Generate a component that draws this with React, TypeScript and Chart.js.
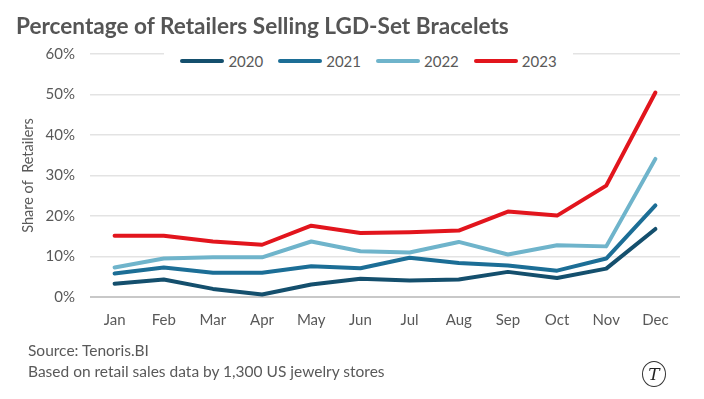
import React, { useEffect, useRef } from "react";
import { Chart, registerables } from "chart.js";

Chart.register(...registerables);

const months = ["Jan", "Feb", "Mar", "Apr", "May", "Jun", "Jul", "Aug", "Sep", "Oct", "Nov", "Dec"];
const years = ["2020", "2021", "2022", "2023"];
const s2020 = [3.3, 4.3, 2.0, 0.6, 3.1, 4.5, 4.1, 4.3, 6.2, 4.7, 7.0, 16.8];
const s2021 = [5.8, 7.3, 6.0, 6.0, 7.6, 7.1, 9.7, 8.4, 7.8, 6.5, 9.5, 22.6];
const s2022 = [7.3, 9.5, 9.8, 9.8, 13.7, 11.3, 11.0, 13.6, 10.5, 12.8, 12.5, 34.1];
const s2023 = [15.1, 15.1, 13.7, 12.9, 17.6, 15.8, 16.0, 16.4, 21.1, 20.1, 27.5, 50.5];
const yTickLabels = ["0%", "10%", "20%", "30%", "40%", "50%", "60%"];
const colors = ["#144f6d", "#1c6e96", "#6fb4cb", "#e2151d"];

const FONT = "Lato, 'Open Sans', sans-serif";
const TEXT = "#595959";

export default function App() {
  const ref = useRef<HTMLCanvasElement | null>(null);

  useEffect(() => {
    document.body.style.margin = "0";
    const series = [s2020, s2021, s2022, s2023];
    const chart = new Chart(ref.current as HTMLCanvasElement, {
      type: "line",
      data: {
        labels: months,
        datasets: series.map((d, i) => ({
          label: years[i],
          data: d,
          borderColor: colors[i],
          backgroundColor: colors[i],
          borderWidth: 4,
          pointRadius: 0,
          tension: 0,
          borderJoinStyle: "round" as const,
          borderCapStyle: "round" as const,
        })),
      },
      options: {
        responsive: false,
        animation: false,
        layout: { padding: { left: 0, right: 24, top: 54, bottom: 62 } },
        plugins: { legend: { display: false }, tooltip: { enabled: false }, title: { display: false } },
        scales: {
          x: {
            offset: true,
            grid: { display: false, drawTicks: false },
            border: { display: false },
            ticks: { padding: 14, color: TEXT, font: { family: FONT, size: 15 } },
            afterFit: (s: any) => { s.height = 40; },
          },
          y: {
            min: 0,
            max: 60,
            grid: {
              drawTicks: false,
              color: (c: any) => (c.tick && c.tick.value === 0 ? "#c8c8c8" : "#e3e3e3"),
              lineWidth: (c: any) => (c.tick && c.tick.value === 0 ? 2 : 1.5),
            },
            border: { display: false },
            ticks: {
              stepSize: 10,
              padding: 15,
              color: TEXT,
              font: { family: FONT, size: 15 },
              callback: (v: any) => yTickLabels[Math.round(Number(v) / 10)],
            },
            title: {
              display: true,
              text: "Share of  Retailers",
              color: TEXT,
              font: { family: FONT, size: 14.5 },
              padding: { top: 20, bottom: 0 },
            },
            afterFit: (s: any) => { s.width = 90; },
          },
        },
      },
    });
    return () => chart.destroy();
  }, []);

  return (
    <div style={{ position: "relative", width: 704, height: 399, background: "#fff", fontFamily: FONT, color: TEXT, overflow: "hidden" }}>
      <canvas ref={ref} width={704} height={399} style={{ position: "absolute", left: 0, top: 0 }} />
      <div style={{ position: "absolute", left: 16, top: 12, fontSize: 22.6, fontWeight: 700, color: "#555", whiteSpace: "nowrap", lineHeight: "28px" }}>
        Percentage of Retailers Selling LGD-Set Bracelets
      </div>
      <div style={{ position: "absolute", left: 164, top: 50, width: 409, height: 22, background: "#fff", display: "flex", alignItems: "center", justifyContent: "center" }}>
        {years.map((y, i) => (
          <div key={y} style={{ display: "flex", alignItems: "center", marginRight: i < 3 ? 15 : 0 }}>
            <div style={{ width: 44, height: 4, borderRadius: 2, background: colors[i], marginRight: 4 }} />
            <span style={{ fontSize: 15 }}>{y}</span>
          </div>
        ))}
      </div>
      <div style={{ position: "absolute", left: 28, top: 340, fontSize: 15.5, lineHeight: "21px", whiteSpace: "nowrap" }}>
        <div>Source: Tenoris.BI</div>
        <div>Based on retail sales data by 1,300 US jewelry stores</div>
      </div>
      <div style={{ position: "absolute", left: 642, top: 361, width: 24, height: 26, border: "1.5px solid #333", borderRadius: "50%", display: "flex", alignItems: "center", justifyContent: "center", fontFamily: "'DejaVu Serif', serif", fontStyle: "italic", fontSize: 17, color: "#222", boxSizing: "border-box" }}>
        T
      </div>
    </div>
  );
}
